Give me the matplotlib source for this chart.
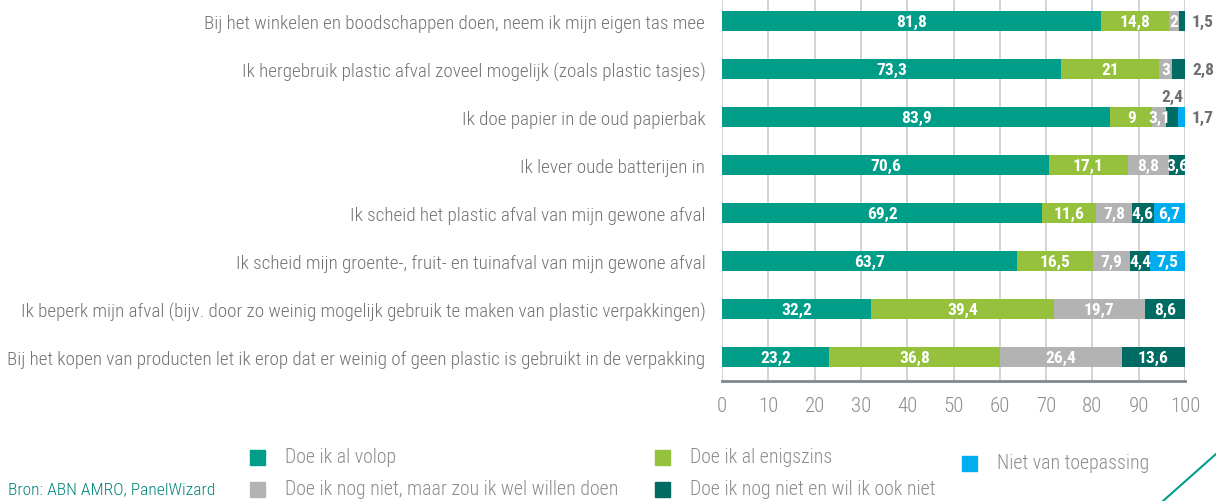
import matplotlib
matplotlib.use('Agg')
import matplotlib.pyplot as plt
from matplotlib.patches import Rectangle
from matplotlib.lines import Line2D

plt.rcParams['font.family'] = ['Roboto Condensed', 'DejaVu Sans']

# Gegevens
stellingen = [
    'Bij het winkelen en boodschappen doen, neem ik mijn eigen tas mee',
    'Ik hergebruik plastic afval zoveel mogelijk (zoals plastic tasjes)',
    'Ik doe papier in de oud papierbak',
    'Ik lever oude batterijen in',
    'Ik scheid het plastic afval van mijn gewone afval',
    'Ik scheid mijn groente-, fruit- en tuinafval van mijn gewone afval',
    'Ik beperk mijn afval (bijv. door zo weinig mogelijk gebruik te maken van plastic verpakkingen)',
    'Bij het kopen van producten let ik erop dat er weinig of geen plastic is gebruikt in de verpakking',
]
volop = [81.8, 73.3, 83.9, 70.6, 69.2, 63.7, 32.2, 23.2]
enigszins = [14.8, 21, 9, 17.1, 11.6, 16.5, 39.4, 36.8]
wel_willen = [2, 3, 3.1, 8.8, 7.8, 7.9, 19.7, 26.4]
niet_willen = [1.5, 2.8, 2.4, 3.6, 4.6, 4.4, 8.6, 13.6]
nvt = [0, 0, 1.7, 0, 6.7, 7.5, 0, 0]

reeksen = ['Doe ik al volop', 'Doe ik al enigszins',
           'Doe ik nog niet, maar zou ik wel willen doen',
           'Doe ik nog niet en wil ik ook niet', 'Niet van toepassing']
kleuren = ['#009E89', '#95C13D', '#B3B3B3', '#006B63', '#00AEEF']
waarden = [volop, enigszins, wel_willen, niet_willen, nvt]

fig = plt.figure(figsize=(12.16, 5.02), dpi=100)
ax = fig.add_axes([722 / 1216, 1 - 382 / 502, 463 / 1216, 382 / 502])

n = len(stellingen)
links = [0.0] * n
for k, (reeks, kleur) in enumerate(zip(waarden, kleuren)):
    ax.barh(range(n), reeks, left=links, height=0.4, color=kleur, zorder=3)
    for i, v in enumerate(reeks):
        if v == 0:
            continue
        tekst = f'{v:g}'.replace('.', ',')
        midden = links[i] + v / 2
        laatste = all(w[i] == 0 for w in waarden[k + 1:])
        if k >= 3 and v < 3:
            if laatste:
                ax.text(101.5, i, tekst, ha='left', va='center', fontsize=12.5,
                        fontweight='bold', color='#6e6e6e', clip_on=False)
            else:
                ax.text(midden, i - 0.42, tekst, ha='center', va='center', fontsize=12.5,
                        fontweight='bold', color='#6e6e6e', clip_on=False)
        else:
            ax.text(midden, i, tekst, ha='center', va='center', fontsize=12.5,
                    fontweight='bold', color='white', zorder=4)
    links = [a + b for a, b in zip(links, reeks)]

ax.set_xlim(0, 100)
ax.set_ylim(n - 0.5, -0.46)
ax.set_xticks(range(0, 101, 10))
ax.set_yticks(range(n))
ax.set_yticklabels(stellingen, fontsize=13.8, color='#737373', fontweight='light')
ax.tick_params(axis='y', length=0, pad=12)
ax.tick_params(axis='x', length=0, pad=11, labelsize=15, labelcolor='#8c8c8c')
for lbl in ax.get_xticklabels():
    lbl.set_fontweight('light')
ax.grid(axis='x', color='#cccccc', linewidth=1.2, zorder=0)
for s in ['top', 'right', 'left']:
    ax.spines[s].set_visible(False)
ax.spines['bottom'].set_color('#7f8790')
ax.spines['bottom'].set_linewidth(2)

# Legenda
posities = [(250, 458), (655, 458), (250, 490), (655, 490), (962, 464)]
for (px, py), label, kleur in zip(posities, reeksen, kleuren):
    fig.patches.append(Rectangle((px / 1216, 1 - (py + 8) / 502), 15 / 1216, 15 / 502,
                                 transform=fig.transFigure, color=kleur))
    fig.text((px + 35) / 1216, 1 - py / 502, label, fontsize=14.3, color='#8c8c8c',
             va='center', ha='left', fontweight='light')

fig.text(8 / 1216, 1 - 490 / 502, 'Bron: ABN AMRO, PanelWizard', fontsize=12.6,
         color='#00857a', va='center', ha='left', fontweight='light')
fig.lines.append(Line2D([1216 / 1216, 1163 / 1216], [1 - 455 / 502, 0],
                        transform=fig.transFigure, color='#009E89', linewidth=1.5))

fig.savefig('out.png', dpi=100)
